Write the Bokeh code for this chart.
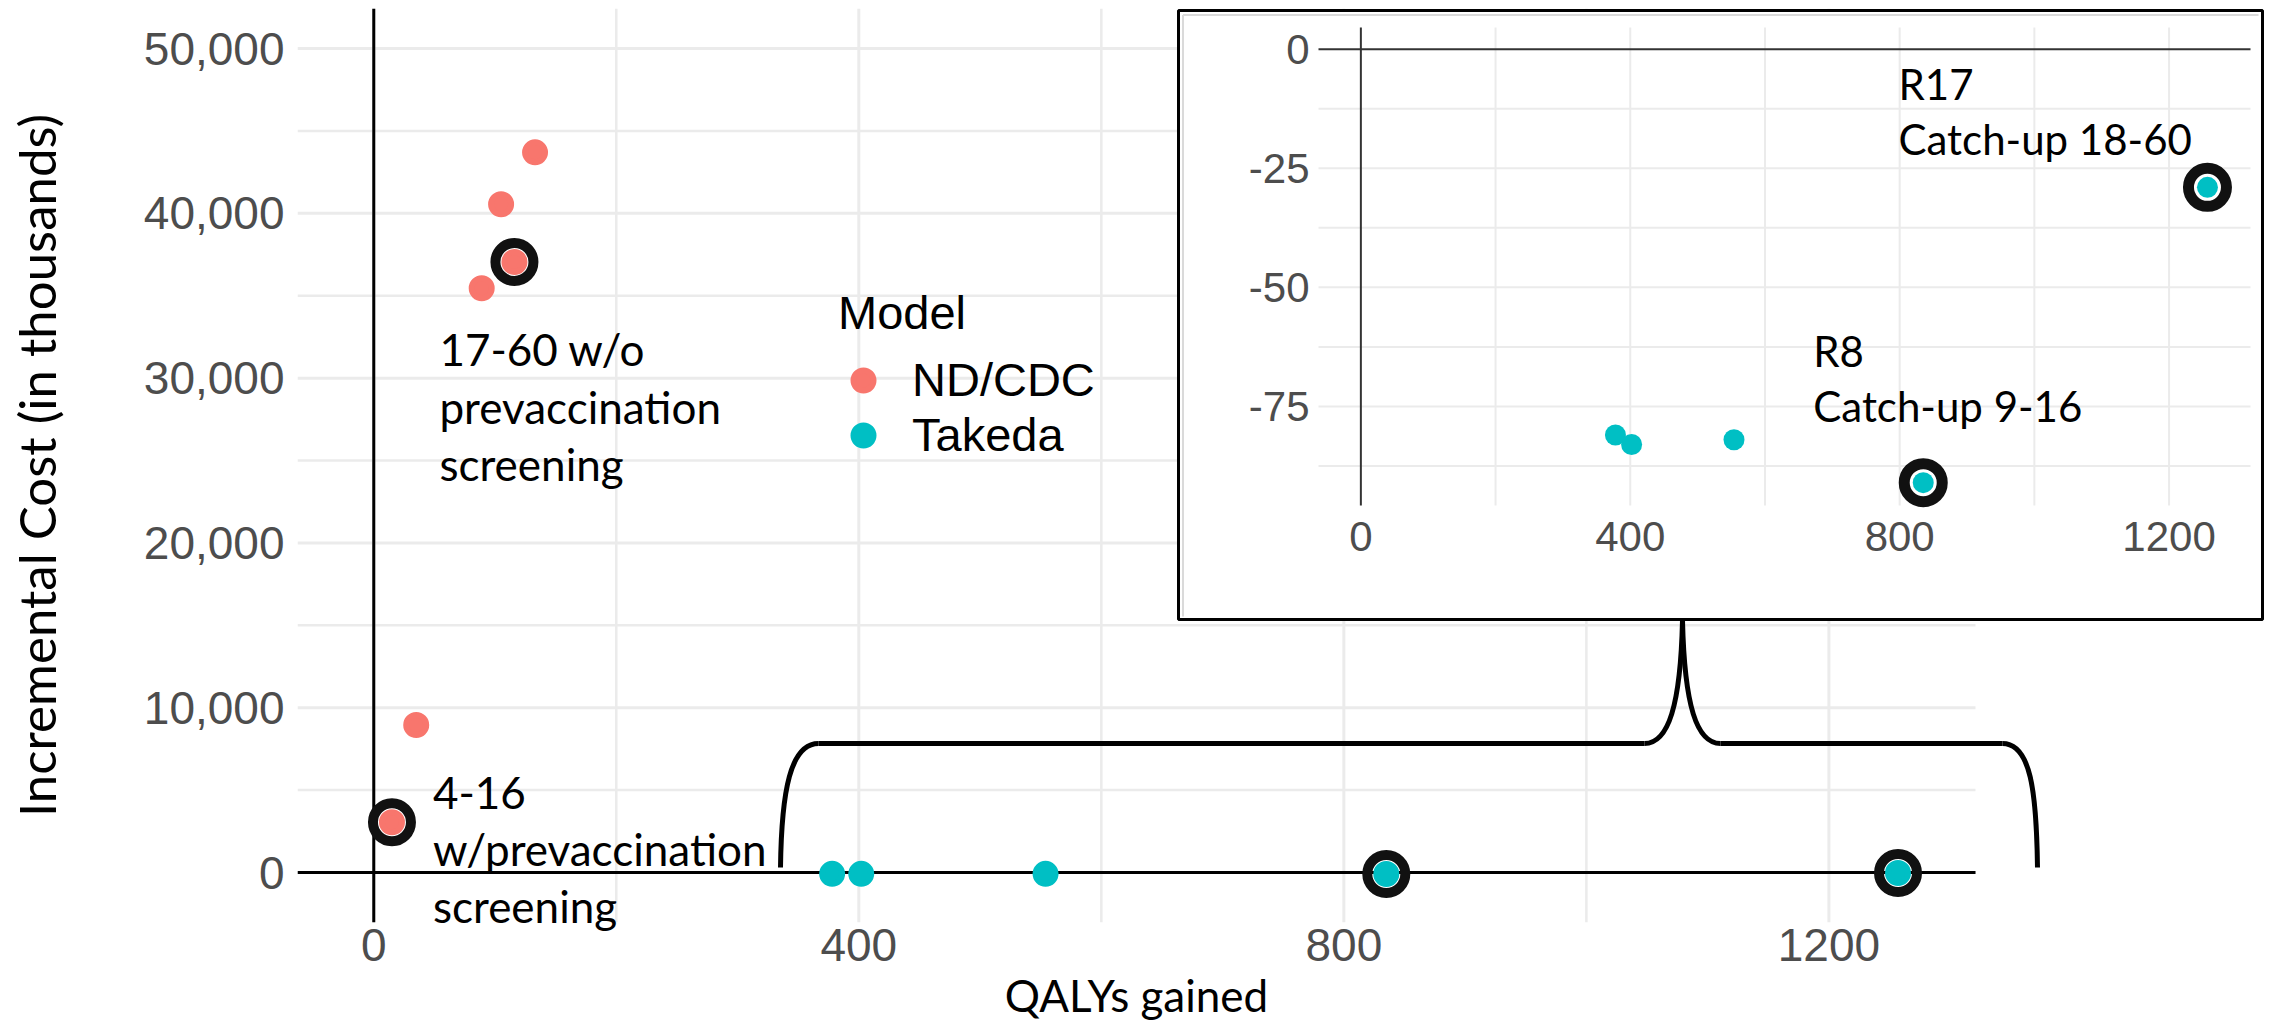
from bokeh.plotting import figure
from bokeh.models import (Range1d, FixedTicker, Legend, LegendItem,
                          ColumnDataSource, NumeralTickFormatter)
from bokeh.core.properties import value
from bokeh.embed import file_html
from bokeh.resources import INLINE

# ---------------- data ----------------
models = ["ND/CDC", "Takeda"]
nd_qaly = [133, 105, 116, 89, 35, 15]
nd_cost = [43700, 40550, 37050, 35450, 8950, 3050]          # thousands
tk_qaly = [378, 402, 554, 835, 1257]
tk_cost = [-81, -83, -82, -91, -29]                          # thousands
nd_highlight = [2, 5]
tk_highlight = [3, 4]
nd_notes = {2: ["17-60 w/o", "prevaccination", "screening"],
            5: ["4-16", "w/prevaccination", "screening"]}
tk_notes = {3: ["R8", "Catch-up 9-16"],
            4: ["R17", "Catch-up 18-60"]}
main_x_ticks = [0, 400, 800, 1200]
main_x_minor = [200, 600, 1000]
main_y_ticks = [0, 10000, 20000, 30000, 40000, 50000]
main_y_minor = [5000, 15000, 25000, 35000, 45000]
inset_y_ticks = [0, -25, -50, -75]
inset_y_minor = [-12.5, -37.5, -62.5, -87.5]
x_title = "QALYs gained"
y_title = "Incremental Cost (in thousands)"
legend_title = "Model"

# ---------------- styles / layout ----------------
COL = {"ND/CDC": "#F8766D", "Takeda": "#00BFC4"}
GRID = "#EBEBEB"
TICK_COL = "#4D4D4D"
NOTE_FONT = "Lato"
AX_FONT = "Liberation Sans"
RING = "#111111"

W, H = 2274, 1023
PANEL_X = (-62.9, 1320.9)        # the plotted panel (grid) extent
YR = (-3034, 52430)
IXR = (-62.9, 1320.9)
IYR = (-95.8, 4.56)
FX0, FY0, FY1 = 297, 8, 922      # frame placement on the page (px); frame runs to the right edge
PX_PER_X = 1678 / (PANEL_X[1] - PANEL_X[0])
XR = (PANEL_X[0], PANEL_X[0] + (W - FX0) / PX_PER_X)


def gx(px):
    return XR[0] + (px - FX0) / PX_PER_X


def gy(py):
    return YR[1] - (py - FY0) * (YR[1] - YR[0]) / (FY1 - FY0)


# ---------------- main plot ----------------
p = figure(width=W, height=H, x_range=Range1d(*XR), y_range=Range1d(*YR),
           output_backend="svg", toolbar_location=None,
           min_border_left=FX0, min_border_right=0, min_border_top=FY0, min_border_bottom=H - FY1)
p.outline_line_color = None
p.background_fill_color = "white"
p.xgrid.visible = False
p.ygrid.visible = False

p.xaxis.ticker = FixedTicker(ticks=main_x_ticks)
p.yaxis.ticker = FixedTicker(ticks=main_y_ticks)
p.yaxis.formatter = NumeralTickFormatter(format="0,0")
for ax in (p.xaxis, p.yaxis):
    ax.axis_line_color = None
    ax.major_tick_line_color = None
    ax.minor_tick_line_color = None
    ax.major_tick_out = 0
    ax.major_tick_in = 0
    ax.minor_tick_out = 0
    ax.major_label_text_font = AX_FONT
    ax.major_label_text_font_size = "46px"
    ax.major_label_text_color = TICK_COL
p.yaxis.major_label_standoff = 13
p.xaxis.major_label_standoff = 6
p.yaxis.axis_label = y_title
p.yaxis.axis_label_text_font = NOTE_FONT
p.yaxis.axis_label_text_font_size = "51px"
p.yaxis.axis_label_text_font_style = "normal"
p.yaxis.axis_label_text_color = "black"
p.yaxis.axis_label_standoff = 74

# panel grid (major + minor), limited to the panel
vmaj, vmin = main_x_ticks, main_x_minor
p.segment(x0=vmin, x1=vmin, y0=[YR[0]] * len(vmin), y1=[YR[1]] * len(vmin),
          line_color=GRID, line_width=2.5)
p.segment(x0=vmaj, x1=vmaj, y0=[YR[0]] * len(vmaj), y1=[YR[1]] * len(vmaj),
          line_color=GRID, line_width=3)
p.segment(x0=[PANEL_X[0]] * len(main_y_minor), x1=[PANEL_X[1]] * len(main_y_minor),
          y0=main_y_minor, y1=main_y_minor, line_color=GRID, line_width=2.5)
p.segment(x0=[PANEL_X[0]] * len(main_y_ticks), x1=[PANEL_X[1]] * len(main_y_ticks),
          y0=main_y_ticks, y1=main_y_ticks, line_color=GRID, line_width=3)
# zero reference lines
p.segment(x0=[0, PANEL_X[0]], x1=[0, PANEL_X[1]], y0=[YR[0], 0], y1=[YR[1], 0],
          line_color="black", line_width=3)

# highlight rings, then points
p.scatter([nd_qaly[i] for i in nd_highlight], [nd_cost[i] for i in nd_highlight],
          size=38, fill_color=None, line_color=RING, line_width=10)
p.scatter([tk_qaly[i] for i in tk_highlight], [tk_cost[i] for i in tk_highlight],
          size=38, fill_color=None, line_color=RING, line_width=10)
r_nd = p.scatter(nd_qaly, nd_cost, size=20, fill_color=COL["ND/CDC"], line_color=COL["ND/CDC"], line_width=6)
r_tk = p.scatter(tk_qaly, tk_cost, size=20, fill_color=COL["Takeda"], line_color=COL["Takeda"], line_width=6)

legend = Legend(items=[LegendItem(label=models[0], renderers=[r_nd]),
                       LegendItem(label=models[1], renderers=[r_tk])],
                title=legend_title, location=(541, 460), orientation="vertical",
                glyph_width=50, glyph_height=50, label_standoff=24, spacing=0,
                padding=0, margin=0, title_standoff=12,
                border_line_color=None, background_fill_alpha=0)
legend.title_text_font = AX_FONT
legend.title_text_font_size = "47px"
legend.title_text_font_style = "normal"
legend.title_text_color = "black"
legend.label_text_font = AX_FONT
legend.label_text_font_size = "47px"
legend.label_text_color = "black"
p.add_layout(legend)

# notes next to highlighted ND/CDC points (pixel offsets from the point)
nd_offsets = {2: (-75, [87, 145, 202]), 5: (41, [-29, 27, 84])}
src = {"x": [], "y": [], "text": [], "xo": [], "yo": []}
for i in nd_highlight:
    dx, dys = nd_offsets[i]
    for line, dy in zip(nd_notes[i], dys):
        src["x"].append(nd_qaly[i]); src["y"].append(nd_cost[i]); src["text"].append(line)
        src["xo"].append(dx); src["yo"].append(dy)
p.text(x="x", y="y", text="text", x_offset="xo", y_offset="yo", source=ColumnDataSource(src),
       text_font=value(NOTE_FONT), text_font_size=value("44px"), text_color="black",
       text_align="left", text_baseline="alphabetic", level="overlay")

# x-axis title (centered under the panel)
p.text(x=[(PANEL_X[0] + PANEL_X[1]) / 2], y=[YR[0]], text=[x_title], y_offset=72,
       text_font=value(NOTE_FONT), text_font_size=value("44px"), text_color="black",
       text_align="center", text_baseline="alphabetic", level="overlay")

# brace from the Takeda points up to the inset (decoration, page px -> data)
brace_px = [  # (start, control1, control2, end)
    ((780, 867), (781, 790), (790, 743), (818, 743)),
    ((818, 743), (818, 743), (1644, 743), (1644, 743)),
    ((1644, 743), (1668, 743), (1680, 705), (1682, 620)),
    ((1682, 620), (1684, 705), (1696, 743), (1720, 743)),
    ((1720, 743), (1720, 743), (2002, 743), (2002, 743)),
    ((2002, 743), (2030, 743), (2036, 790), (2037, 867)),
]
p.bezier(x0=[gx(s[0][0]) for s in brace_px], y0=[gy(s[0][1]) for s in brace_px],
         cx0=[gx(s[1][0]) for s in brace_px], cy0=[gy(s[1][1]) for s in brace_px],
         cx1=[gx(s[2][0]) for s in brace_px], cy1=[gy(s[2][1]) for s in brace_px],
         x1=[gx(s[3][0]) for s in brace_px], y1=[gy(s[3][1]) for s in brace_px],
         line_color="black", line_width=5, level="overlay")

# ---------------- inset (own coordinate system mapped into a box of the page) ----------------
p.quad(left=[gx(1178)], right=[gx(2262)], bottom=[gy(619)], top=[gy(10)],
       fill_color="white", line_color="black", line_width=3, level="overlay")
# faint inner edge of the pasted inset (left and top)
p.segment(x0=[gx(1182.5), gx(1182.5)], x1=[gx(1182.5), gx(2258)],
          y0=[gy(616), gy(14.5)], y1=[gy(14.5), gy(14.5)],
          line_color="#DADADA", line_width=2, level="overlay")

sub = p.subplot(x_source=Range1d(*IXR), y_source=Range1d(*IYR),
                x_target=Range1d(gx(1318), gx(2250)), y_target=Range1d(gy(505), gy(27)))

vx = main_x_ticks[1:] + main_x_minor
sub.segment(x0=vx, x1=vx, y0=[IYR[0]] * len(vx), y1=[IYR[1]] * len(vx),
            line_color=GRID, line_width=2, level="overlay")
hy = inset_y_ticks[1:] + inset_y_minor
sub.segment(x0=[IXR[0]] * len(hy), x1=[IXR[1]] * len(hy), y0=hy, y1=hy,
            line_color=GRID, line_width=2, level="overlay")
sub.segment(x0=[0, IXR[0]], x1=[0, IXR[1]], y0=[IYR[0], 0], y1=[IYR[1], 0],
            line_color="#333333", line_width=2, level="overlay")

sub.text(x=main_x_ticks, y=[IYR[0]] * len(main_x_ticks), text=[str(t) for t in main_x_ticks],
         y_offset=16, text_font=value(AX_FONT), text_font_size=value("42px"), text_color=TICK_COL,
         text_align="center", text_baseline="top", level="overlay")
sub.text(x=[IXR[0]] * len(inset_y_ticks), y=inset_y_ticks, text=[str(t) for t in inset_y_ticks],
         x_offset=-9, text_font=value(AX_FONT), text_font_size=value("42px"), text_color=TICK_COL,
         text_align="right", text_baseline="middle", level="overlay")

sub.scatter([tk_qaly[i] for i in tk_highlight], [tk_cost[i] for i in tk_highlight],
            size=38, fill_color=None, line_color=RING, line_width=11, level="overlay")
sub.scatter(tk_qaly, tk_cost, size=21, fill_color=COL["Takeda"], line_color=None, level="overlay")

tk_offsets = {3: (-110, [-132, -77]), 4: (-309, [-103, -48])}
isrc = {"x": [], "y": [], "text": [], "xo": [], "yo": []}
for i in tk_highlight:
    dx, dys = tk_offsets[i]
    for line, dy in zip(tk_notes[i], dys):
        isrc["x"].append(tk_qaly[i]); isrc["y"].append(tk_cost[i]); isrc["text"].append(line)
        isrc["xo"].append(dx); isrc["yo"].append(dy)
sub.text(x="x", y="y", text="text", x_offset="xo", y_offset="yo", source=ColumnDataSource(isrc),
         text_font=value(NOTE_FONT), text_font_size=value("42px"), text_color="black",
         text_align="left", text_baseline="alphabetic", level="overlay")

open("out.html", "w").write(file_html(p, INLINE))
